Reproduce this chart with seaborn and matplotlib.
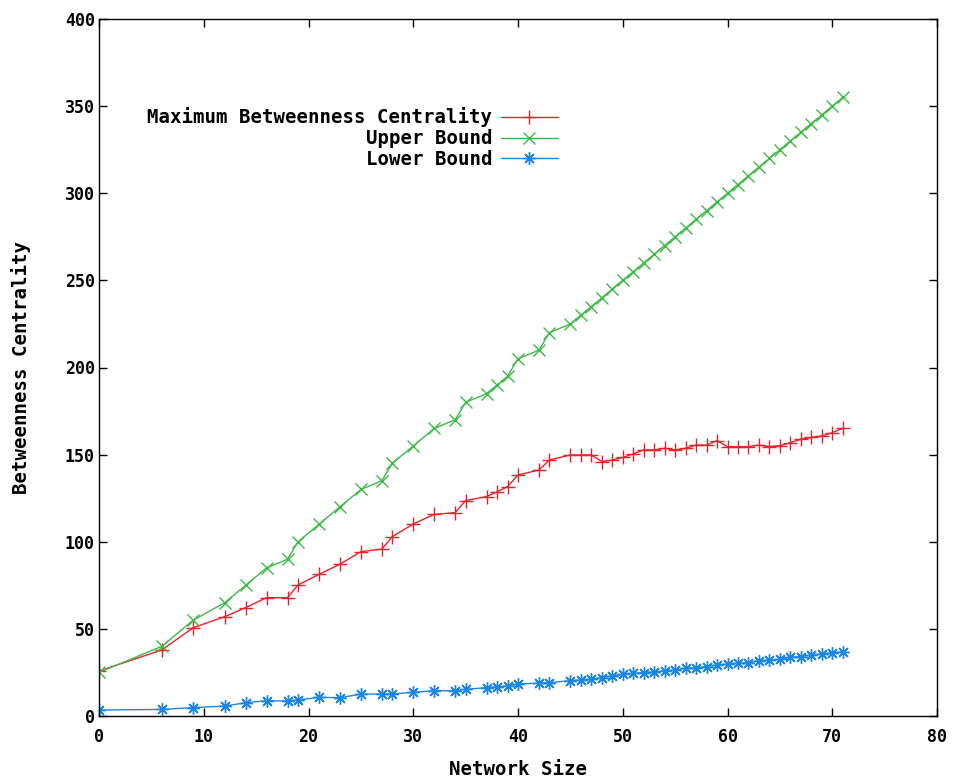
import matplotlib
matplotlib.use("Agg")
import matplotlib.pyplot as plt
import seaborn as sns
import pandas as pd

# ---- data ----
network_size = [0, 6, 9, 12, 14, 16, 18, 19, 21, 23, 25, 27, 28, 30, 32, 34, 35,
                37, 38, 39, 40, 42, 43, 45, 46, 47, 48, 49, 50, 51, 52, 53, 54,
                55, 56, 57, 58, 59, 60, 61, 62, 63, 64, 65, 66, 67, 68, 69, 70, 71]

max_betweenness = [25.8, 37.9, 50.7, 57.0, 62.2, 67.9, 67.9, 75.2, 81.3, 87.1,
                   94.3, 95.8, 102.9, 110.2, 115.7, 116.7, 123.6, 125.9, 128.7,
                   131.6, 138.3, 141.2, 146.9, 149.8, 149.8, 149.8, 146.0, 146.9,
                   148.4, 150.4, 152.7, 152.7, 153.6, 152.7, 153.6, 155.5, 155.5,
                   158.0, 154.6, 154.6, 154.6, 155.5, 154.6, 155.1, 156.9, 158.8,
                   159.9, 160.7, 162.6, 165.1]

upper_bound = [25, 40, 55, 65, 75, 85, 90, 100, 110, 120, 130, 135, 145, 155, 165,
               170, 180, 185, 190, 195, 205, 210, 220, 225, 230, 235, 240, 245,
               250, 255, 260, 265, 270, 275, 280, 285, 290, 295, 300, 305, 310,
               315, 320, 325, 330, 335, 340, 345, 350, 355]

lower_bound = [3.4, 3.8, 4.8, 5.7, 7.6, 8.8, 8.6, 9.2, 10.7, 10.5, 12.6, 12.6,
               12.6, 13.6, 14.5, 14.5, 15.3, 16.3, 16.8, 17.1, 18.4, 18.8, 19.1,
               20.3, 20.7, 21.1, 22.0, 23.0, 23.9, 24.5, 24.9, 25.4, 25.8, 26.4,
               27.4, 27.7, 28.3, 29.3, 29.8, 30.2, 30.6, 31.7, 32.1, 32.5, 33.7,
               34.1, 35.0, 35.6, 36.3, 36.9]

series_names = ["Maximum Betweenness Centrality", "Upper Bound", "Lower Bound"]
x_ticks = [0, 10, 20, 30, 40, 50, 60, 70, 80]
y_ticks = [0, 50, 100, 150, 200, 250, 300, 350, 400]

df = pd.DataFrame({"size": network_size,
                   series_names[0]: max_betweenness,
                   series_names[1]: upper_bound,
                   series_names[2]: lower_bound})

# ---- style ----
sns.set_style("ticks")
plt.rcParams["font.family"] = ["DejaVu Sans Mono", "DejaVu Sans"]
plt.rcParams["font.weight"] = "bold"
plt.rcParams["text.color"] = "black"
plt.rcParams["axes.labelcolor"] = "black"

fig = plt.figure(figsize=(9.58, 7.83), dpi=100)
ax = fig.add_axes([99 / 958, 1 - 716 / 783, (937 - 99) / 958, (716 - 19) / 783])

colors = ["#e8222a", "#3dba48", "#1c86e6"]
markers = ["+", "x", (8, 2, 0)]
msizes = [10.5, 9, 9]

for name, c, m, ms in zip(series_names, colors, markers, msizes):
    sns.lineplot(data=df, x="size", y=name, ax=ax, color=c, marker=m,
                 markersize=ms, markeredgecolor=c, markerfacecolor=c,
                 markeredgewidth=1.0, linewidth=1.0, label=name)

ax.set_xlim(0, 80)
ax.set_ylim(0, 400)
ax.set_xticks(x_ticks)
ax.set_yticks(y_ticks)
ax.set_xticklabels([str(t) for t in x_ticks])
ax.set_yticklabels([str(t) for t in y_ticks])

for s in ax.spines.values():
    s.set_visible(True)
    s.set_color("black")
    s.set_linewidth(1.0)

ax.tick_params(direction="in", length=6, width=1.0, top=True, right=True,
               labelsize=12, colors="black")
ax.tick_params(axis="x", pad=9)
ax.tick_params(axis="y", pad=3)
for lab in ax.get_xticklabels() + ax.get_yticklabels():
    lab.set_fontweight("bold")

ax.set_xlabel("Network Size", fontsize=13.7, fontweight="bold", labelpad=10, color="black")
ax.set_ylabel("Betweenness Centrality", fontsize=13.7, fontweight="bold", labelpad=24, color="black")

leg = ax.legend(loc="upper right", bbox_to_anchor=(0.559, 0.887), frameon=False,
                markerfirst=False, handlelength=3.0, labelspacing=0.1,
                handletextpad=0.45, fontsize=13.7, borderpad=0)
for t in leg.get_texts():
    t.set_fontweight("bold")
    t.set_color("black")

fig.savefig("out.png", dpi=100, facecolor="white")
